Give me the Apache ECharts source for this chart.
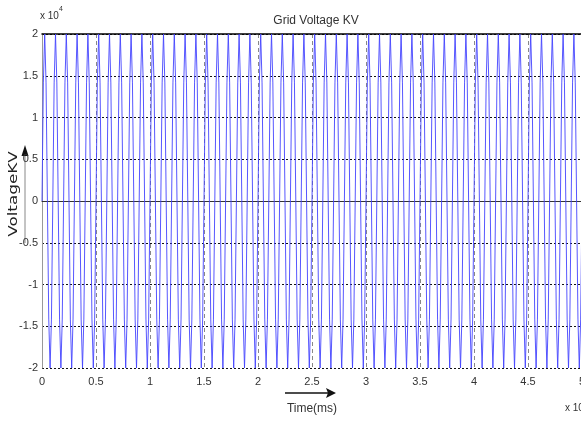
<!DOCTYPE html>
<html>
<head>
<meta charset="utf-8">
<script src="https://cdn.jsdelivr.net/npm/echarts@6/dist/echarts.min.js"></script>
<style>
html,body{margin:0;padding:0;background:#fff;}
#chart{width:581px;height:423px;}
</style>
</head>
<body>
<div id="chart"></div>
<script>
// Sample spacing of the recorded trace (ms) and the sampled voltage values (V)
var sampleStepMs = 125;
var voltage = [
0,14142,20000,14142,0,-14142,-20000,-14142,
0,14142,20000,14142,0,-14142,-20000,-14142,
0,14142,20000,14142,0,-14142,-20000,-14142,
0,14142,20000,14142,0,-14142,-20000,-14142,
0,14142,20000,14142,0,-14142,-20000,-14142,
0,14142,20000,14142,0,-14142,-20000,-14142,
0,14142,20000,14142,0,-14142,-20000,-14142,
0,14142,20000,14142,0,-14142,-20000,-14142,
0,14142,20000,14142,0,-14142,-20000,-14142,
0,14142,20000,14142,0,-14142,-20000,-14142,
0,14142,20000,14142,0,-14142,-20000,-14142,
0,14142,20000,14142,0,-14142,-20000,-14142,
0,14142,20000,14142,0,-14142,-20000,-14142,
0,14142,20000,14142,0,-14142,-20000,-14142,
0,14142,20000,14142,0,-14142,-20000,-14142,
0,14142,20000,14142,0,-14142,-20000,-14142,
0,14142,20000,14142,0,-14142,-20000,-14142,
0,14142,20000,14142,0,-14142,-20000,-14142,
0,14142,20000,14142,0,-14142,-20000,-14142,
0,14142,20000,14142,0,-14142,-20000,-14142,
0,14142,20000,14142,0,-14142,-20000,-14142,
0,14142,20000,14142,0,-14142,-20000,-14142,
0,14142,20000,14142,0,-14142,-20000,-14142,
0,14142,20000,14142,0,-14142,-20000,-14142,
0,14142,20000,14142,0,-14142,-20000,-14142,
0,14142,20000,14142,0,-14142,-20000,-14142,
0,14142,20000,14142,0,-14142,-20000,-14142,
0,14142,20000,14142,0,-14142,-20000,-14142,
0,14142,20000,14142,0,-14142,-20000,-14142,
0,14142,20000,14142,0,-14142,-20000,-14142,
0,14142,20000,14142,0,-14142,-20000,-14142,
0,14142,20000,14142,0,-14142,-20000,-14142,
0,14142,20000,14142,0,-14142,-20000,-14142,
0,14142,20000,14142,0,-14142,-20000,-14142,
0,14142,20000,14142,0,-14142,-20000,-14142,
0,14142,20000,14142,0,-14142,-20000,-14142,
0,14142,20000,14142,0,-14142,-20000,-14142,
0,14142,20000,14142,0,-14142,-20000,-14142,
0,14142,20000,14142,0,-14142,-20000,-14142,
0,14142,20000,14142,0,-14142,-20000,-14142,
0,14142,20000,14142,0,-14142,-20000,-14142,
0,14142,20000,14142,0,-14142,-20000,-14142,
0,14142,20000,14142,0,-14142,-20000,-14142,
0,14142,20000,14142,0,-14142,-20000,-14142,
0,14142,20000,14142,0,-14142,-20000,-14142,
0,14142,20000,14142,0,-14142,-20000,-14142,
0,14142,20000,14142,0,-14142,-20000,-14142,
0,14142,20000,14142,0,-14142,-20000,-14142,
0,14142,20000,14142,0,-14142,-20000,-14142,
0,14142,20000,14142,0,-14142,-20000,-14142,
0
];
var xRange = [0, 50000];
var yRange = [-20000, 20000];
var tickStep = 5000;
var axisScale = 10000; // "x 10^4"
var titleText = 'Grid Voltage KV';
var xLabel = 'Time(ms)';
var yLabel = 'VoltageKV';

var seriesData = voltage.map(function (v, i) { return [i * sampleStepMs, v]; });

var font = "'Liberation Sans Narrow','Liberation Sans',Arial,sans-serif";
var chart = echarts.init(document.getElementById('chart'), null, {renderer: 'canvas'});
function fmt(v) { return String(Math.round(v / axisScale * 10) / 10); }

chart.setOption({
  animation: false,
  backgroundColor: '#fff',
  title: {
    text: titleText, left: 311, top: 10, textAlign: 'center',
    textStyle: {fontFamily: font, fontSize: 12, fontWeight: 'normal', color: '#333'}
  },
  grid: {left: 42, top: 34, width: 540, height: 334, outerBoundsMode: 'none', containLabel: false},
  xAxis: [{
    type: 'value', min: xRange[0], max: xRange[1], interval: tickStep,
    axisLine: {lineStyle: {color: '#333', width: 1}},
    axisTick: {show: false},
    axisLabel: {formatter: fmt, fontFamily: font, fontSize: 11, color: '#333', margin: 8},
    splitLine: {show: true, lineStyle: {color: '#888', type: [4, 3], width: 1}}
  }, {
    type: 'value', position: 'top', min: xRange[0], max: xRange[1],
    axisLine: {show: true, onZero: false, lineStyle: {color: '#000', width: 1.5}},
    axisTick: {show: false}, axisLabel: {show: false}, splitLine: {show: false}
  }],
  yAxis: {
    type: 'value', min: yRange[0], max: yRange[1], interval: tickStep,
    axisLine: {show: true, lineStyle: {color: '#999', width: 1}},
    axisTick: {show: false},
    axisLabel: {formatter: fmt, fontFamily: font, fontSize: 11, color: '#333', margin: 4},
    splitLine: {show: true, lineStyle: {color: '#111', type: [2, 2], width: 1}}
  },
  series: [{
    type: 'line', xAxisIndex: 0, data: seriesData, showSymbol: false,
    lineStyle: {color: '#4444ff', width: 0.9}, z: 1
  }],
  graphic: [
    {type: 'text', left: 40, top: 6, style: {
      text: '{a|x 10}{b|4}', rich: {
        a: {fontFamily: font, fontSize: 10, fill: '#333', padding: [5, 0, 0, 0]},
        b: {fontFamily: font, fontSize: 7, fill: '#333', verticalAlign: 'top', padding: [0, 0, 0, 0]}
      }}},
    {type: 'text', left: 565, top: 398, style: {
      text: '{a|x 10}{b|4}', rich: {
        a: {fontFamily: font, fontSize: 10, fill: '#333', padding: [5, 0, 0, 0]},
        b: {fontFamily: font, fontSize: 7, fill: '#333', verticalAlign: 'top'}
      }}},
    {type: 'text', x: 14, y: 194, rotation: Math.PI / 2, scaleX: 1.4, style: {
      text: yLabel, fontFamily: "'DejaVu Sans',Verdana,sans-serif", fontSize: 12, fill: '#222',
      align: 'center', verticalAlign: 'middle'}},
    {type: 'line', shape: {x1: 25, y1: 243, x2: 25, y2: 152}, style: {stroke: '#888', lineWidth: 1}},
    {type: 'polygon', shape: {points: [[25, 145], [21.5, 156], [28.5, 156]]}, style: {fill: '#111'}},
    {type: 'line', shape: {x1: 285, y1: 393, x2: 328, y2: 393}, style: {stroke: '#111', lineWidth: 1.3}},
    {type: 'polygon', shape: {points: [[336, 393], [326, 388], [328, 393], [326, 398]]}, style: {fill: '#111'}},
    {type: 'text', x: 312, y: 409, style: {
      text: xLabel, fontFamily: font, fontSize: 12, fill: '#333', align: 'center', verticalAlign: 'middle'}}
  ]
});
</script>
</body>
</html>
